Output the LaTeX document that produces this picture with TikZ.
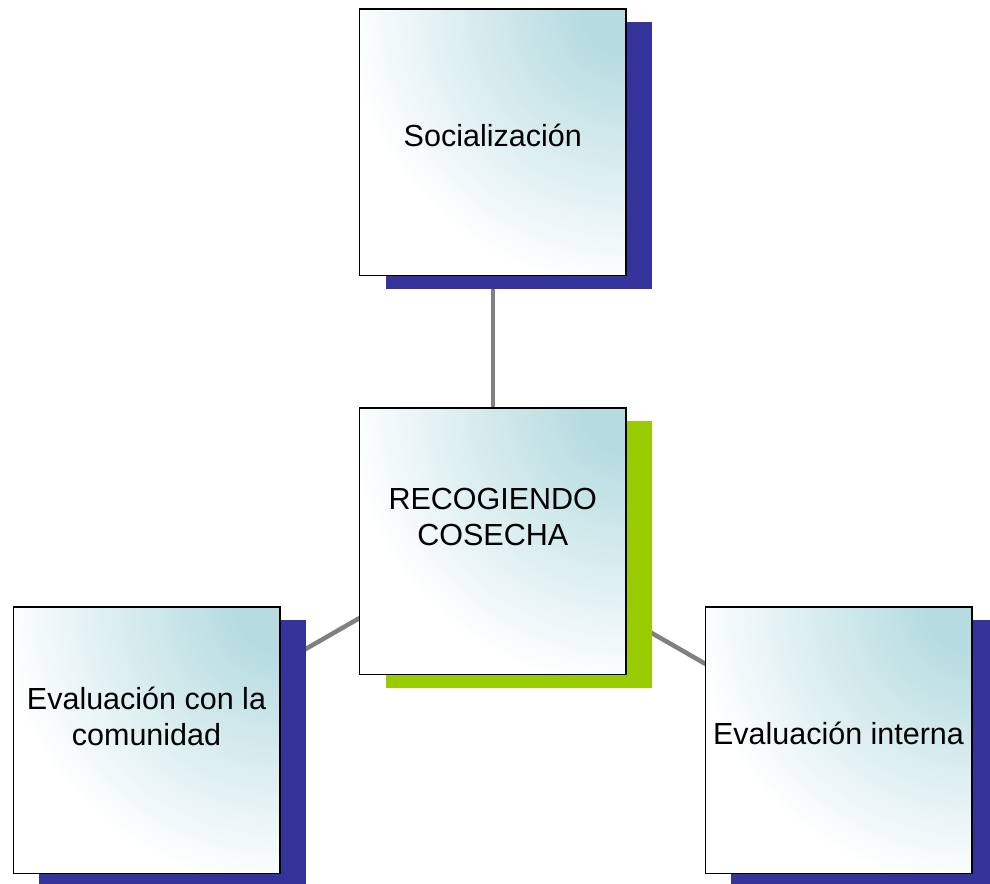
\documentclass[tikz,border=0pt]{standalone}
\usepackage{fontspec}
\setmainfont{Liberation Sans}
\usetikzlibrary{backgrounds}
\definecolor{boxteal}{RGB}{182,220,225}
\definecolor{shadowblue}{RGB}{51,51,153}
\definecolor{shadowgreen}{RGB}{153,204,0}
\definecolor{linkgray}{RGB}{128,128,128}
\pgfdeclareradialshading{boxshade}{\pgfpoint{0bp}{0bp}}{color(0bp)=(boxteal); color(4bp)=(boxteal); color(25bp)=(white); color(50bp)=(white)}
\tikzset{
  box/.style={draw=black, fill=white, line width=1.5pt, minimum width=266.5pt, minimum height=266.5pt,
    inner sep=0pt, outer sep=0pt,
    path picture={\shade[shading=boxshade] (path picture bounding box.north east) circle (280pt);}},
  lbl/.style={font=\fontsize{30.5}{36}\selectfont, align=center, inner sep=0pt, text=black},
  link/.style={draw=linkgray, line width=4.5pt},
  blueshadow/.style={fill=shadowblue},
  greenshadow/.style={fill=shadowgreen}
}
\begin{document}
\begin{tikzpicture}[x=1pt,y=1pt]
\useasboundingbox (0,0) rectangle (990,883);
\node[box] (top) at (492.75,740.5) {};
\node[box] (mid) at (492.75,341.5) {};
\node[box] (left) at (146.5,142.5) {};
\node[box] (right) at (838.5,142.5) {};
\node[lbl] (topT) at (492.75,747.3) {Socialización};
\node[lbl] (midT) at (492.75,366) {RECOGIENDO\\COSECHA};
\node[lbl] (leftT) at (146.5,166.3) {Evaluación con la\\comunidad};
\node[lbl] (rightT) at (838.5,149.3) {Evaluación interna};
\begin{pgfonlayer}{background}
  \draw[link] (top.center) -- (mid.center);
  \draw[link] (mid.center) -- (left.center);
  \draw[link] (mid.center) -- (right.center);
  \fill[blueshadow] ([shift={(26,-13)}]top.south west) rectangle ([shift={(26,-13)}]top.north east);
  \fill[greenshadow] ([shift={(26,-13)}]mid.south west) rectangle ([shift={(26,-13)}]mid.north east);
  \fill[blueshadow] ([shift={(26,-13)}]left.south west) rectangle ([shift={(26,-13)}]left.north east);
  \fill[blueshadow] ([shift={(26,-13)}]right.south west) rectangle ([shift={(26,-13)}]right.north east);
\end{pgfonlayer}
\end{tikzpicture}
\end{document}
